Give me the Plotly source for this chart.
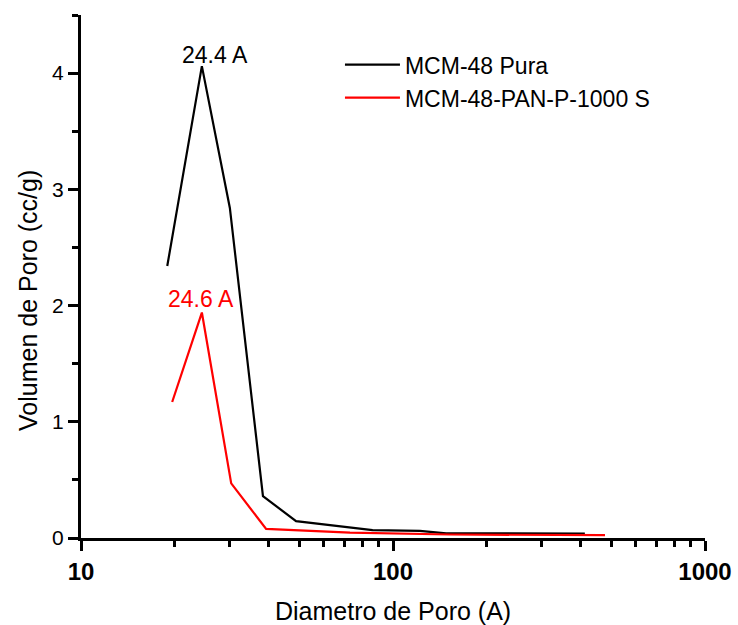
import math
import plotly.graph_objects as go

# Data
pura_x = [18.9, 24.4, 30.0, 38.3, 48.9, 86.0, 122.0, 148.0, 412.0]
pura_y = [2.34, 4.06, 2.84, 0.36, 0.145, 0.068, 0.062, 0.040, 0.038]

pan_x = [19.6, 24.4, 30.3, 39.2, 72.8, 122.0, 152.0, 478.0]
pan_y = [1.17, 1.94, 0.47, 0.078, 0.046, 0.034, 0.030, 0.024]

names = ["MCM-48 Pura", "MCM-48-PAN-P-1000 S"]
colors = ["black", "#ff0000"]
peak_labels = ["24.4 A", "24.6 A"]

x_major = [10, 100, 1000]
x_minor = [20, 30, 40, 50, 60, 70, 80, 90, 200, 300, 400, 500, 600, 700, 800, 900]

FONT = "Arial, Liberation Sans, Helvetica, sans-serif"

fig = go.Figure()
fig.add_trace(go.Scatter(x=pura_x, y=pura_y, mode="lines", name=names[0],
                         line=dict(color=colors[0], width=2.2)))
fig.add_trace(go.Scatter(x=pan_x, y=pan_y, mode="lines", name=names[1],
                         line=dict(color=colors[1], width=2.2)))

# peak labels (log axis -> annotation x in log10 units)
fig.add_annotation(x=math.log10(26.8), y=4.16, xref="x", yref="y", text=peak_labels[0],
                   showarrow=False, xanchor="center", yanchor="middle",
                   font=dict(family=FONT, size=23, color=colors[0]))
fig.add_annotation(x=math.log10(24.3), y=2.06, xref="x", yref="y", text=peak_labels[1],
                   showarrow=False, xanchor="center", yanchor="middle",
                   font=dict(family=FONT, size=23, color=colors[1]))

# axis titles
fig.add_annotation(x=0.5, y=-0.14, xref="paper", yref="paper",
                   xanchor="center", yanchor="middle",
                   text="Diametro de Poro (A)", showarrow=False,
                   font=dict(family=FONT, size=25, color="black"))
fig.add_annotation(x=-0.085, y=0.455, xref="paper", yref="paper", textangle=-90,
                   xanchor="center", yanchor="middle",
                   text="Volumen de Poro (cc/g)", showarrow=False,
                   font=dict(family=FONT, size=25, color="black"))

fig.update_xaxes(type="log", range=[1, 3], showgrid=False, zeroline=False,
                 automargin=False,
                 showline=True, linecolor="black", linewidth=3,
                 ticks="outside", ticklen=10, tickwidth=3, tickcolor="black",
                 tickmode="array", tickvals=x_major, ticktext=[str(v) for v in x_major],
                 tickfont=dict(family=FONT, size=24, color="black", weight="bold"),
                 minor=dict(tickmode="array", tickvals=x_minor, ticks="outside",
                            ticklen=6, tickwidth=3, tickcolor="black"))
fig.update_yaxes(range=[0, 4.5], showgrid=False, zeroline=False,
                 automargin=False,
                 showline=True, linecolor="black", linewidth=3,
                 ticks="outside", ticklen=10, tickwidth=3, tickcolor="black",
                 tickmode="linear", tick0=0, dtick=1,
                 tickfont=dict(family=FONT, size=21, color="black"),
                 minor=dict(ticks="outside", ticklen=6, tickwidth=3, tickcolor="black",
                            dtick=0.5, tick0=0))

fig.update_layout(
    width=738, height=625, autosize=False,
    margin=dict(l=81, r=33, t=15, b=87, autoexpand=False),
    paper_bgcolor="white", plot_bgcolor="white",
    font=dict(family=FONT, color="black"),
    showlegend=True,
    legend=dict(x=0.415, y=0.946, xanchor="left", yanchor="top", itemwidth=55,
                bgcolor="rgba(0,0,0,0)", font=dict(family=FONT, size=23, color="black"),
                tracegroupgap=0),
)

fig.write_html("out.html", config={"displayModeBar": False, "responsive": False},
               post_script="document.body.style.margin='0';document.body.style.padding='0';"
                           "document.body.style.overflow='hidden';")
